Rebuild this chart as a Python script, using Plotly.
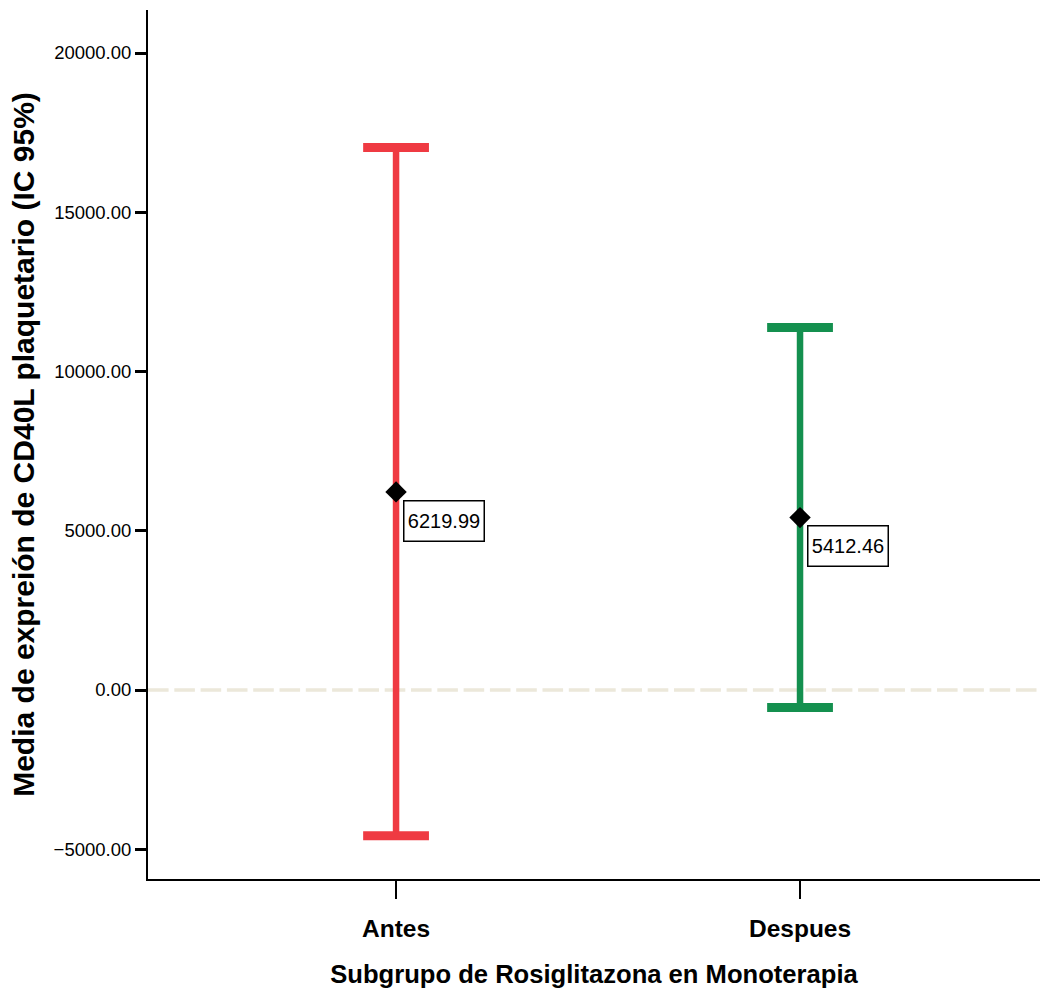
import plotly.graph_objects as go

# Grupos y estadísticos (media e IC 95%) de CD40L plaquetario
categories = ["Antes", "Despues"]
means = [6219.99, 5412.46]
ci_upper = [17030, 11380]
ci_lower = [-4580, -550]
colors = ["#ef3a42", "#14904f"]
y_ticks = [-5000, 0, 5000, 10000, 15000, 20000]

FONT = "Liberation Sans, Arial, sans-serif"
xpos = list(range(len(categories)))

fig = go.Figure()

# Línea de referencia en cero (discontinua)
fig.add_shape(
    type="line", xref="paper", yref="y", x0=0, x1=1, y0=0, y1=0,
    line=dict(color="#ece8da", width=3.3, dash="20.6px,5.7px"),
    layer="below",
)

for i, cat in enumerate(categories):
    # Barra vertical del intervalo de confianza
    fig.add_trace(go.Scatter(
        x=[xpos[i], xpos[i]], y=[ci_lower[i], ci_upper[i]],
        mode="lines", line=dict(color=colors[i], width=6.5),
        hoverinfo="skip", showlegend=False,
    ))
    # Remates horizontales de los extremos
    fig.add_trace(go.Scatter(
        x=[xpos[i], xpos[i]], y=[ci_lower[i], ci_upper[i]],
        mode="markers",
        marker=dict(symbol="line-ew", size=47,
                    line=dict(color=colors[i], width=9)),
        hoverinfo="skip", showlegend=False,
    ))

# Medias
fig.add_trace(go.Scatter(
    x=xpos, y=means, mode="markers",
    marker=dict(symbol="diamond", size=16.5, color="black",
                line=dict(width=0)),
    showlegend=False,
))

for i, m in enumerate(means):
    fig.add_annotation(
        x=xpos[i], y=m, xref="x", yref="y",
        text=f"{m:.2f}", showarrow=False,
        xanchor="left", yanchor="top", xshift=6.5, yshift=-7.7,
        font=dict(family=FONT, size=20, color="black"),
        bordercolor="black", borderwidth=1.5, borderpad=1,
        bgcolor="white", width=77, height=37,
    )

fig.update_layout(
    width=1040, height=994,
    margin=dict(l=148, r=0, t=10, b=115),
    paper_bgcolor="white", plot_bgcolor="white",
    font=dict(family=FONT, color="black"),
    showlegend=False,
)

fig.update_xaxes(
    range=[-0.614, 1.594],
    tickvals=xpos, ticktext=categories,
    tickfont=dict(family=FONT, size=24.5, color="black", weight="bold"),
    ticklabelstandoff=9,
    showgrid=False, zeroline=False,
    showline=True, linecolor="black", linewidth=2,
    ticks="outside", ticklen=18, tickwidth=1.5, tickcolor="black",
    title=dict(text="Subgrupo de Rosiglitazona en Monoterapia",
               font=dict(family=FONT, size=25.6, color="black", weight="bold"),
               standoff=24),
)

fig.update_yaxes(
    range=[-5934, 21350],
    tickvals=y_ticks, tickformat=".2f",
    tickfont=dict(family=FONT, size=18.5, color="black"),
    showgrid=False, zeroline=False,
    showline=True, linecolor="black", linewidth=2,
    ticks="outside", ticklen=11, tickwidth=2.5, tickcolor="black",
    title=dict(text="Media de expreión de CD40L plaquetario (IC 95%)",
               font=dict(family=FONT, size=30, color="black", weight="bold"),
               standoff=10),
)

fig.write_html("out.html")
